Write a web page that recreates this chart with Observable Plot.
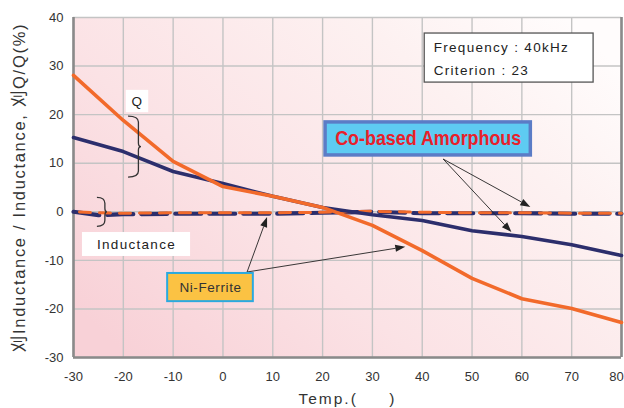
<!DOCTYPE html>
<html><head><meta charset="utf-8">
<script src="https://cdn.jsdelivr.net/npm/d3@7"></script>
<script src="https://cdn.jsdelivr.net/npm/@observablehq/plot@0.6"></script>
<style>
body{margin:0;background:#fff;}
#chart svg{display:block;}
</style></head><body><div id="chart"></div><script>
// ---- data ----
const temps = [-30,-20,-10,0,10,20,30,40,50,60,70,80];
const niFerriteQ = [28.1,18.8,10.4,5.2,3.2,0.9,-2.8,-8.0,-13.7,-17.9,-19.9,-22.8];
const coAmorphousQ = [15.3,12.4,8.3,5.8,3.2,0.9,-0.6,-1.8,-3.9,-5.1,-6.8,-9.0];
const indTemps = [-30,-25,-20,-10,0,10,20,30,40,50,60,70,80];
const coAmorphousL = [0,-0.7,-0.5,-0.4,-0.4,-0.4,-0.2,0,-0.3,-0.3,-0.3,-0.4,-0.4];
const niFerriteL = [0,-0.2,-0.3,-0.2,-0.2,-0.2,-0.1,0.1,-0.1,-0.2,-0.2,-0.3,-0.3];
const xTicks = [-30,-20,-10,0,10,20,30,40,50,60,70,80];
const yTicks = [-30,-20,-10,0,10,20,30,40];
const infoLines = ["Frequency : 40kHz", "Criterion : 23"];
const xLabel = "Temp.(     )";
const yLabel = "刈Inductance / Inductance, 刈Q/Q(%)";

// ---- annotation placement (data units) ----
const infoBox = {x1:40.5, x2:74.4, y1:36.7, y2:26.6};
const infoText = [{x:42.3, y:33.8}, {x:42.3, y:29.1}];
const coBox = {x1:20.6, x2:61.8, y1:18.4, y2:11.6, tx:41.2, ty:15.1, label:"Co-based Amorphous"};
const niBox = {x1:-11.1, x2:6.1, y1:-12.7, y2:-18.5, tx:-2.5, ty:-15.6, label:"Ni-Ferrite"};
const qBox = {x1:-19.4, x2:-14.9, y1:25.0, y2:20.4, tx:-17.15, ty:22.7, label:"Q"};
const indBox = {x1:-28.2, x2:-6.5, y1:-4.27, y2:-9.2, tx:-17.35, ty:-6.7, label:"Inductance"};
const braces = [{x0:-18.95, x1:-16.35, y0:19.6, y1:7.05}, {x0:-25.2, x1:-23.2, y0:2.88, y1:-3.1}];
const arrows = [
  {x1:44.3, y1:10.76, x2:61.8, y2:0.9},
  {x1:44.3, y1:10.76, x2:58.0, y2:-4.27},
  {x1:4.94, y1:-12.5, x2:8.96, y2:-1.2},
  {x1:4.94, y1:-12.5, x2:36.7, y2:-7.3}
];

const niQ = temps.map((t,i)=>({t, v:niFerriteQ[i]}));
const coQ = temps.map((t,i)=>({t, v:coAmorphousQ[i]}));
const coL = indTemps.map((t,i)=>({t, v:coAmorphousL[i]}));
const niL = indTemps.map((t,i)=>({t, v:niFerriteL[i]}));

const ORANGE = "#f26a2b", NAVY = "#2c2e6c";

function bgMark(index, scales, values, dims) {
  const g = d3.create("svg:g");
  const grad = g.append("defs").append("linearGradient").attr("id","bgGrad")
    .attr("x1",0).attr("y1",0.85).attr("x2",1).attr("y2",0.15);
  grad.append("stop").attr("offset","0%").attr("stop-color","#f8d1d7");
  grad.append("stop").attr("offset","35%").attr("stop-color","#fbe2e5");
  grad.append("stop").attr("offset","75%").attr("stop-color","#fdf1f1");
  grad.append("stop").attr("offset","100%").attr("stop-color","#fffcfc");
  g.append("rect").attr("x",dims.marginLeft).attr("y",dims.marginTop)
    .attr("width",dims.width-dims.marginLeft-dims.marginRight)
    .attr("height",dims.height-dims.marginTop-dims.marginBottom)
    .attr("fill","url(#bgGrad)");
  return g.node();
}
function braceMark(index, scales) {
  const g = d3.create("svg:g");
  for (const b of braces) {
    const X0 = scales.x(b.x0), X1 = scales.x(b.x1), Y0 = scales.y(b.y0), Y1 = scales.y(b.y1);
    const Ym = (Y0+Y1)/2, Xm = X0 + (X1-X0)*0.8, r = Math.min(6,(Y1-Y0)/4);
    g.append("path").attr("fill","none").attr("stroke","#333").attr("stroke-width",1.3)
      .attr("d",`M${X0},${Y0}Q${Xm},${Y0} ${Xm},${Y0+r}L${Xm},${Ym-r*0.6}Q${Xm},${Ym} ${X1},${Ym}Q${Xm},${Ym} ${Xm},${Ym+r*0.6}L${Xm},${Y1-r}Q${Xm},${Y1} ${X0},${Y1}`);
  }
  return g.node();
}
function arrowMark(index, scales) {
  const g = d3.create("svg:g");
  for (const a of arrows) {
    const X1 = scales.x(a.x1), Y1 = scales.y(a.y1), X2 = scales.x(a.x2), Y2 = scales.y(a.y2);
    const dx = X2-X1, dy = Y2-Y1, L = Math.hypot(dx,dy), ux = dx/L, uy = dy/L;
    const hl = 10, hw = 3.6;
    const bx = X2-ux*hl, by = Y2-uy*hl;
    g.append("line").attr("x1",X1).attr("y1",Y1).attr("x2",bx).attr("y2",by)
      .attr("stroke","#222").attr("stroke-width",0.9);
    g.append("path").attr("fill","#222")
      .attr("d",`M${X2},${Y2}L${bx-uy*hw},${by+ux*hw}L${bx+uy*hw},${by-ux*hw}Z`);
  }
  return g.node();
}

const FONT = "Liberation Sans, Arial, Helvetica, sans-serif";
const chart = Plot.plot({
  width: 624, height: 408,
  marginLeft: 73, marginRight: 3, marginTop: 17, marginBottom: 51,
  style: {fontFamily: FONT, fontSize: "13px", color: "#333", background: "#fff"},
  x: {domain: [-30, 80]},
  y: {domain: [-30, 40]},
  marks: [
    bgMark,
    Plot.gridX(xTicks, {stroke: "#c4c4c4", strokeOpacity: 1, strokeWidth: 1.4}),
    Plot.gridY(yTicks, {stroke: "#c4c4c4", strokeOpacity: 1, strokeWidth: 1.4}),
    Plot.ruleX([-30, 80], {stroke: "#8a8a8a", strokeWidth: 2.6}),
    Plot.ruleY([-30], {stroke: "#8a8a8a", strokeWidth: 2.6}),
    Plot.axisX({ticks: xTicks, tickFormat: d => String(d), tickSize: 0, tickPadding: 14, label: xLabel, labelAnchor: "center", labelArrow: "none", labelOffset: 46, fill: "#333"}),
    Plot.axisY({ticks: yTicks, tickFormat: d => String(d), tickSize: 0, tickPadding: 10, label: yLabel, labelAnchor: "center", labelArrow: "none", labelOffset: 60, fill: "#333"}),
    Plot.line(coL, {x: "t", y: "v", stroke: NAVY, strokeWidth: 4.2, strokeDasharray: "26,8"}),
    Plot.line(niL, {x: "t", y: "v", stroke: ORANGE, strokeWidth: 3, strokeDasharray: "11,9", strokeDashoffset: -6}),
    Plot.line(coQ, {x: "t", y: "v", stroke: NAVY, strokeWidth: 3.6}),
    Plot.line(niQ, {x: "t", y: "v", stroke: ORANGE, strokeWidth: 3.6}),
    // info box
    Plot.rect([infoBox], {x1: "x1", x2: "x2", y1: "y1", y2: "y2", fill: "#fff", stroke: "#555", strokeWidth: 1.3}),
    Plot.text(infoLines, {x: (d,i)=>infoText[i].x, y: (d,i)=>infoText[i].y, text: d=>d, textAnchor: "start", fontSize: 13.5, fill: "#222"}),
    // white label boxes
    Plot.rect([qBox, indBox], {x1: "x1", x2: "x2", y1: "y1", y2: "y2", fill: "#fff"}),
    Plot.text([qBox, indBox], {x: "tx", y: "ty", text: "label", fontSize: 13.5, fill: "#222"}),
    braceMark,
    arrowMark,
    // Co-based box
    Plot.rect([coBox], {x1: "x1", x2: "x2", y1: "y1", y2: "y2", fill: "#5ecbf2", stroke: "#5b7cc6", strokeWidth: 3.5}),
    Plot.text([coBox], {x: "tx", y: "ty", text: "label", fontSize: 20, fontWeight: "bold", fill: "#e8202a", fontFamily: "Liberation Sans Narrow, Arial Narrow, Liberation Sans, sans-serif"}),
    // Ni-Ferrite box
    Plot.rect([niBox], {x1: "x1", x2: "x2", y1: "y1", y2: "y2", fill: "#fbc243", stroke: "#2aa9e0", strokeWidth: 2}),
    Plot.text([niBox], {x: "tx", y: "ty", text: "label", fontSize: 13.5, fill: "#333"})
  ]
});
document.getElementById("chart").appendChild(chart);

// text styling the library has no option for (letter spacing, condensed face)
const root = d3.select(chart);
root.selectAll("text").each(function() {
  const t = this.textContent, s = d3.select(this);
  if (infoLines.includes(t) || t === "Q" || t === "Inductance") s.style("letter-spacing", "1.3px");
  else if (t === "Ni-Ferrite") s.style("letter-spacing", "0.6px");
  else if (t === coBox.label) s.attr("textLength", 186).attr("lengthAdjust", "spacingAndGlyphs");
  else if (t === yLabel) s.attr("font-size", 16.5).style("font-size", "16.5px").style("letter-spacing", "1.7px")
    .style("font-family", "Liberation Sans, Arial, 'Noto Sans CJK JP', sans-serif");
  else if (t === xLabel) s.style("font-size", "15.5px").style("letter-spacing", "2px");
  else if (t === "80") s.attr("dx", -5);
});
// soft shadow under the white label boxes
root.selectAll("rect").filter(function(){ return this.getAttribute("fill") === "#fff" && !this.getAttribute("stroke"); })
  .style("filter", "drop-shadow(2px 2px 2px rgba(0,0,0,0.22))");
</script></body></html>
